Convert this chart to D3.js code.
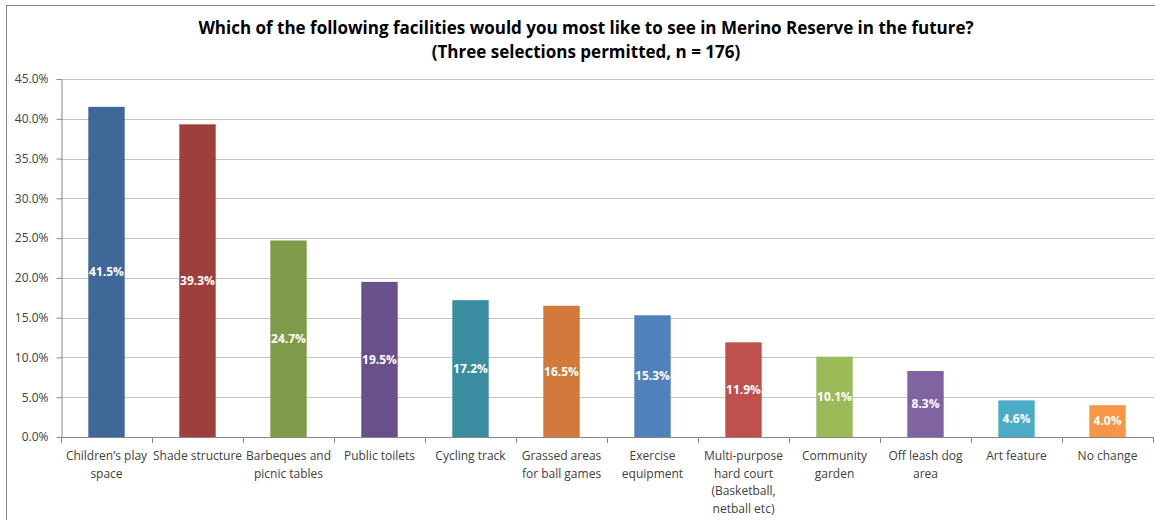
<!DOCTYPE html>
<html>
<head>
<meta charset="utf-8">
<script src="https://cdn.jsdelivr.net/npm/d3@7"></script>
<style>
  html, body { margin: 0; padding: 0; background: #fff; }
  svg { display: block; }
</style>
</head>
<body>
<svg id="chart" width="1155" height="520"></svg>
<script>
// Survey results: facility preferences (percent of respondents)
const categories = [
  ["Children\u2019s play", "space"],
  ["Shade structure"],
  ["Barbeques and", "picnic tables"],
  ["Public toilets"],
  ["Cycling track"],
  ["Grassed areas", "for ball games"],
  ["Exercise", "equipment"],
  ["Multi-purpose", "hard court", "(Basketball,", "netball etc)"],
  ["Community", "garden"],
  ["Off leash dog", "area"],
  ["Art feature"],
  ["No change"]
];
const values = [41.5, 39.3, 24.7, 19.5, 17.2, 16.5, 15.3, 11.9, 10.1, 8.3, 4.6, 4.0];
const colors = ["#3F6797", "#9E3F3D", "#7F9A48", "#69508A", "#3A8DA1", "#D0793A",
                "#4F81BD", "#C0504D", "#9BBB59", "#8064A2", "#4BACC6", "#F79646"];
const yTicks = [0, 5, 10, 15, 20, 25, 30, 35, 40, 45];
const titleLines = [
  "Which of the following facilities would you most like to see in Merino Reserve in the future?",
  "(Three selections permitted, n = 176)"
];

const font = "'Open Sans', 'Noto Sans', sans-serif";
const svg = d3.select("#chart");

// outer frame of the chart area
svg.append("rect")
  .attr("x", 6.5).attr("y", 5.5)
  .attr("width", 1160).attr("height", 530)
  .attr("fill", "#fff").attr("stroke", "#868686").attr("stroke-width", 1);

const plot = { left: 61, right: 1153, top: 79, bottom: 437 };

const x = d3.scaleBand()
  .domain(d3.range(values.length))
  .range([plot.left, plot.right])
  .paddingInner(0.6).paddingOuter(0.3);

const y = d3.scaleLinear().domain([0, 45]).range([plot.bottom, plot.top]);

// horizontal gridlines
svg.append("g")
  .selectAll("line")
  .data(yTicks.filter(d => d > 0))
  .join("line")
  .attr("x1", plot.left).attr("x2", plot.right + 1)
  .attr("y1", d => Math.round(y(d)) + 0.5).attr("y2", d => Math.round(y(d)) + 0.5)
  .attr("stroke", "#C4C4C4").attr("stroke-width", 1);

// y axis
const yAxis = d3.axisLeft(y)
  .tickValues(yTicks)
  .tickFormat(d => d.toFixed(1) + "%")
  .tickSizeInner(5).tickSizeOuter(0).tickPadding(8);
const gy = svg.append("g")
  .attr("transform", `translate(${plot.left + 0.5},0)`)
  .call(yAxis);
gy.select(".domain").attr("stroke", "#868686");
gy.selectAll(".tick line").attr("stroke", "#868686");
gy.selectAll(".tick text")
  .attr("font-family", font).attr("font-size", 12).attr("fill", "#404040");

// bars
svg.append("g")
  .selectAll("rect")
  .data(values)
  .join("rect")
  .attr("x", (d, i) => x(i))
  .attr("width", x.bandwidth())
  .attr("y", d => y(d))
  .attr("height", d => y(0) - y(d))
  .attr("fill", (d, i) => colors[i]);

// value labels centred inside each bar
svg.append("g")
  .selectAll("text")
  .data(values)
  .join("text")
  .attr("x", (d, i) => x(i) + x.bandwidth() / 2)
  .attr("y", d => (y(d) + y(0)) / 2)
  .attr("dy", "0.35em")
  .attr("text-anchor", "middle")
  .attr("font-family", font).attr("font-size", 12).attr("font-weight", "bold")
  .attr("fill", "#fff")
  .text(d => d.toFixed(1) + "%");

// x axis baseline and category separators
const xBase = svg.append("g");
xBase.append("line")
  .attr("x1", plot.left).attr("x2", plot.right + 1)
  .attr("y1", plot.bottom + 0.5).attr("y2", plot.bottom + 0.5)
  .attr("stroke", "#868686");
xBase.selectAll("line.sep")
  .data(d3.range(values.length + 1))
  .join("line")
  .attr("class", "sep")
  .attr("x1", i => Math.round(plot.left + i * (plot.right - plot.left) / values.length) + 0.5)
  .attr("x2", i => Math.round(plot.left + i * (plot.right - plot.left) / values.length) + 0.5)
  .attr("y1", plot.bottom).attr("y2", plot.bottom + 6)
  .attr("stroke", "#868686");

// category labels (multi-line)
const catG = svg.append("g");
categories.forEach((lines, i) => {
  const cx = x(i) + x.bandwidth() / 2;
  const t = catG.append("text")
    .attr("x", cx)
    .attr("y", 460)
    .attr("text-anchor", "middle")
    .attr("font-family", font).attr("font-size", 12).attr("fill", "#404040");
  lines.forEach((ln, k) => {
    t.append("tspan")
      .attr("x", cx)
      .attr("dy", k === 0 ? 0 : 17.5)
      .text(ln);
  });
});

// title
const title = svg.append("text")
  .attr("x", 586).attr("y", 34)
  .attr("text-anchor", "middle")
  .attr("font-family", font).attr("font-size", 17).attr("font-weight", "bold")
  .attr("fill", "#000");
titleLines.forEach((ln, k) => {
  title.append("tspan").attr("x", 586).attr("dy", k === 0 ? 0 : 24).text(ln);
});
</script>
</body>
</html>
